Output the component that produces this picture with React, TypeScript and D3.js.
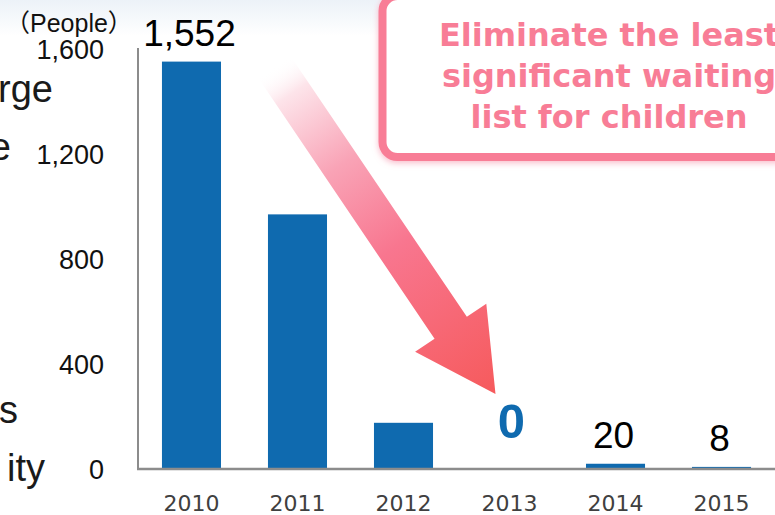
import * as d3 from "d3";
import React from "react";

// data
const years = ["2010", "2011", "2012", "2013", "2014", "2015"];
const waitingList = [1552, 970, 176, 0, 20, 8];
const labelledYears = ["2010", "2013", "2014", "2015"];
const yTicks = [0, 400, 800, 1200, 1600];
const calloutLines = [
  "Eliminate the least",
  "significant waiting",
  "list for children",
];
// fragments of a text box cut off on the left of the slide
const sideFragments = [
  { text: "rge", x: 53, y: 102 },
  { text: "e", x: 11, y: 160 },
  { text: "s", x: 18, y: 423 },
  { text: "ity", x: 45, y: 481 },
];

const W = 775;
const H = 515;
const barColor = "#0f6aaf";
const pink = "#f87d96";
const axisGray = "#8c8c8c";

const App: React.FC = () => {
  const x = d3
    .scaleBand<string>()
    .domain(years)
    .range([138, 775])
    .paddingInner(0.443)
    .paddingOuter(0.226);

  const y = d3.scaleLinear().domain([0, 1600]).range([469, 49]);

  const fmt = d3.format(",");

  // arrow from above the 2010 bar down towards the 2013 "0"
  const tip: [number, number] = [x("2013")! + x.bandwidth() / 2 - 14, y(0) - 75];
  const dir = [0.56, 0.828];
  const perp = [dir[1], -dir[0]];
  const len = 395;
  const shaftW = 39;
  const headLen = 80;
  const headW = 86;
  const base = [tip[0] - dir[0] * len, tip[1] - dir[1] * len];
  const neck = [tip[0] - dir[0] * headLen, tip[1] - dir[1] * headLen];
  const pt = (p: number[], k: number) => [p[0] + perp[0] * k, p[1] + perp[1] * k];
  const arrowPts = [
    pt(base, -shaftW / 2),
    pt(base, shaftW / 2),
    pt(neck, shaftW / 2),
    pt(neck, headW / 2),
    tip,
    pt(neck, -headW / 2),
    pt(neck, -shaftW / 2),
  ];

  return (
    <svg
      width={W}
      height={H}
      style={{ position: "absolute", left: 0, top: 0, background: "#fff" }}
    >
      <defs>
        <linearGradient id="topBg" x1="0" y1="0" x2="0" y2="1">
          <stop offset="0" stopColor="#ecf2f8" />
          <stop offset="1" stopColor="#ffffff" />
        </linearGradient>
        <linearGradient
          id="arrowGrad"
          gradientUnits="userSpaceOnUse"
          x1={base[0]}
          y1={base[1]}
          x2={tip[0]}
          y2={tip[1]}
        >
          <stop offset="0" stopColor="#ffffff" stopOpacity="0" />
          <stop offset="0.08" stopColor="#fde4ea" />
          <stop offset="0.3" stopColor="#f9a3b6" />
          <stop offset="0.55" stopColor="#f8768f" />
          <stop offset="1" stopColor="#f65a5c" />
        </linearGradient>
        <filter id="glow" x="-20%" y="-20%" width="140%" height="140%">
          <feDropShadow dx="0" dy="2" stdDeviation="3" floodColor="#f7a9bb" floodOpacity="0.8" />
        </filter>
      </defs>

      <rect x={0} y={0} width={W} height={36} fill="url(#topBg)" />

      {sideFragments.map((f) => (
        <text
          key={f.text + f.y}
          x={f.x}
          y={f.y}
          textAnchor="end"
          fontFamily="Liberation Sans, Arial, sans-serif"
          fontSize={38}
          fill="#1a1a1a"
        >
          {f.text}
        </text>
      ))}

      <text
        x={5}
        y={32}
        fontFamily="Liberation Sans, Arial, 'Noto Sans CJK JP', sans-serif"
        fontSize={25}
        fill="#111"
      >
        （People）
      </text>

      {yTicks.map((t) => (
        <text
          key={t}
          x={104}
          y={y(t) + 9.5}
          textAnchor="end"
          fontFamily="Liberation Sans, Arial, sans-serif"
          fontSize={27}
          fill="#111"
        >
          {fmt(t)}
        </text>
      ))}

      {years.map((yr, i) => (
        <rect
          key={yr}
          x={x(yr)}
          y={y(waitingList[i])}
          width={x.bandwidth()}
          height={y(0) - y(waitingList[i])}
          fill={barColor}
        />
      ))}

      <line x1={138} x2={138} y1={y(1600) - 1} y2={y(0)} stroke={axisGray} strokeWidth={2} />
      <line x1={137} x2={W} y1={y(0)} y2={y(0)} stroke={axisGray} strokeWidth={2.5} />

      {years.map((yr) => (
        <text
          key={yr}
          x={x(yr)! + x.bandwidth() / 2}
          y={511}
          textAnchor="middle"
          fontFamily="DejaVu Sans, Verdana, sans-serif"
          fontSize={22}
          fill="#404040"
        >
          {yr}
        </text>
      ))}

      {years.map((yr, i) => {
        if (!labelledYears.includes(yr)) return null;
        const v = waitingList[i];
        const cx = x(yr)! + x.bandwidth() / 2;
        if (v === 0) {
          return (
            <text
              key={yr}
              x={cx + 2}
              y={y(0) - 31}
              textAnchor="middle"
              fontFamily="Liberation Sans, Arial, sans-serif"
              fontWeight="bold"
              fontSize={49}
              fill={barColor}
            >
              {fmt(v)}
            </text>
          );
        }
        return (
          <text
            key={yr}
            x={cx - 2}
            y={y(v) - 16}
            textAnchor="middle"
            fontFamily="Liberation Sans, Arial, sans-serif"
            fontSize={37}
            fill="#000"
          >
            {fmt(v)}
          </text>
        );
      })}

      <polygon
        points={arrowPts.map((p) => p.join(",")).join(" ")}
        fill="url(#arrowGrad)"
      />

      <rect
        x={382.5}
        y={-4}
        width={460}
        height={161}
        rx={15}
        fill="#fff"
        stroke={pink}
        strokeWidth={8}
        filter="url(#glow)"
      />
      {calloutLines.map((line, i) => (
        <text
          key={line}
          x={609}
          y={46 + i * 41}
          textAnchor="middle"
          fontFamily="DejaVu Sans, Verdana, sans-serif"
          fontWeight="bold"
          fontSize={32}
          fill={pink}
        >
          {line}
        </text>
      ))}
    </svg>
  );
};

export default App;
